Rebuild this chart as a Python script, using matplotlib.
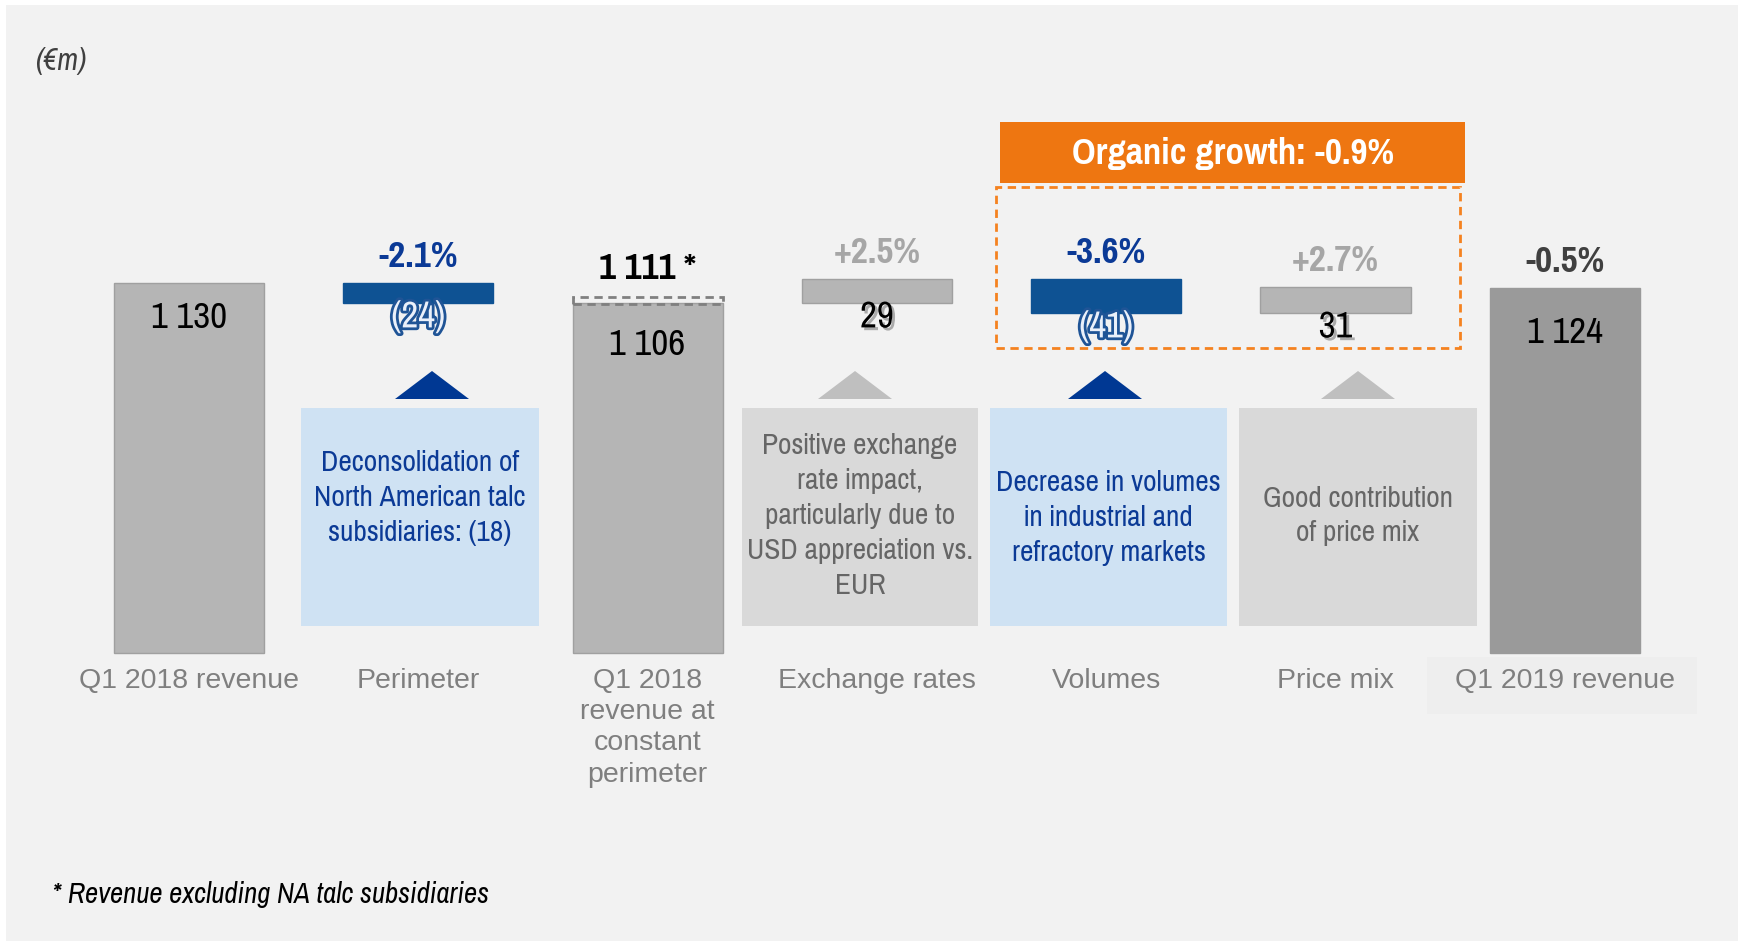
import numpy as np
import matplotlib.pyplot as plt
import matplotlib.patheffects as pe
from matplotlib.patches import Rectangle, Polygon

# data
categories = ["Q1 2018 revenue", "Perimeter", "Q1 2018\nrevenue at\nconstant\nperimeter",
              "Exchange rates", "Volumes", "Price mix", "Q1 2019 revenue"]
values = [1130, -24, 1106, 29, -41, 31, 1124]
is_total = [True, False, True, False, False, False, True]
value_labels = ["1 130", "(24)", "1 106", "29", "(41)", "31", "1 124"]
pct_labels = ["", "-2.1%", "", "+2.5%", "-3.6%", "+2.7%", "-0.5%"]
restated_value = 1111
restated_label = "1 111 *"
organic_label = "Organic growth: -0.9%"
notes = ["Deconsolidation of\nNorth American talc\nsubsidiaries: (18)",
         "Positive exchange\nrate impact,\nparticularly due to\nUSD appreciation vs.\nEUR",
         "Decrease in volumes\nin industrial and\nrefractory markets",
         "Good contribution\nof price mix"]
note_kind = ["neg", "pos", "neg", "pos"]

W, H = 1741, 943
NARROW = ['Pragati Narrow', 'Liberation Sans', 'DejaVu Sans']
NARROW_IT = ['Archivo Narrow', 'Liberation Sans', 'DejaVu Sans']
FONT = ['Liberation Sans', 'DejaVu Sans']

BLUE_BAR = '#0E5293'
BLUE_TXT = '#0B3A96'
GREY_BAR = '#B5B5B5'
DARK_BAR = '#9A9A9A'

def fpx(x, y):
    return (x / W, 1 - y / H)

fig = plt.figure(figsize=(W / 100, H / 100), dpi=100)
fig.patch.set_facecolor('white')
fig.patches.append(Rectangle(fpx(6, 941), 1732 / W, 936 / H, transform=fig.transFigure,
                             facecolor='#F2F2F2', edgecolor='none', zorder=0))

ax = fig.add_axes([0, 0, 1, 1])
ax.set_facecolor('none')
ax.set_zorder(2)
ax.axis('off')

# axis break: bars start at BASE (value), scale 0.8333 px per unit
BASE = 686
PPU = 0.8333
base_px = 653
ax.set_ylim(BASE - (H - base_px) / PPU, BASE + base_px / PPU)
x0_px, step_px = 189.0, 229.3
ax.set_xlim(-x0_px / step_px, (W - x0_px) / step_px)

x = np.arange(len(categories))
bw = 0.655
run = 0
tops, bottoms = [], []
for i, v in enumerate(values):
    if is_total[i]:
        b, h = BASE, v - BASE
        run = v
        col = DARK_BAR if i == len(values) - 1 else GREY_BAR
    else:
        b = min(run, run + v)
        h = abs(v)
        run += v
        col = BLUE_BAR if v < 0 else GREY_BAR
    ax.bar(x[i], h, bottom=b, width=bw, color=col, edgecolor='#A0A0A0' if col == GREY_BAR else col,
           linewidth=1, zorder=2)
    tops.append(b + h)
    bottoms.append(b)

# restated dashed marker on 3rd bar
ax.bar(x[2], restated_value - values[2] + 3, bottom=values[2] - 1, width=bw, fill=False,
       edgecolor='#808080', linestyle=(0, (3, 2)), linewidth=2, zorder=3)
ax.annotate(restated_label, (x[2], restated_value), xytext=(0, 22), textcoords='offset points',
            ha='center', va='center', fontsize=29, fontweight='bold', family=NARROW, color='black')

shadow = [pe.withSimplePatchShadow(offset=(2, -2), shadow_rgbFace='#8C8C8C', alpha=0.7)]
outline = [pe.Stroke(linewidth=4, foreground='#1F5496'), pe.Normal()]

total_off = [-25, None, -30, None, None, None, -32]
for i, v in enumerate(values):
    if is_total[i]:
        ax.annotate(value_labels[i], (x[i], tops[i]), xytext=(0, total_off[i]), textcoords='offset points',
                    ha='center', va='center', fontsize=29, family=NARROW, color='black', zorder=5)
    else:
        t = ax.annotate(value_labels[i], (x[i], bottoms[i]), xytext=(0, -10), textcoords='offset points',
                        ha='center', va='center', fontsize=29, family=NARROW, zorder=5,
                        color='#EAF0FA' if v < 0 else 'black')
        t.set_path_effects(outline if v < 0 else shadow)
    if pct_labels[i]:
        if is_total[i]:
            c = '#404040'
        else:
            c = BLUE_TXT if v < 0 else '#A6A6A6'
        ax.annotate(pct_labels[i], (x[i], tops[i]), xytext=(0, 19), textcoords='offset points',
                    ha='center', va='center', fontsize=29, fontweight='bold', family=NARROW, color=c)

# category labels
for i, c in enumerate(categories):
    ax.text(x[i], BASE - 15 / PPU, c, ha='center', va='top', fontsize=20.5, family=FONT,
            color='#7F7F7F', linespacing=1.26)
fig.patches.append(Rectangle(fpx(1427, 714), 270 / W, 57 / H, transform=fig.transFigure,
                             facecolor='#EEEEEE', edgecolor='none', zorder=0.5))

# note boxes with triangles
box_x = [(301, 539), (742, 978), (990, 1227), (1239, 1477)]
tri_cx = [432, 855, 1105, 1358]
text_cy = [498, 516, 518, 516]
for (l, r), cx, cy, txt, k in zip(box_x, tri_cx, text_cy, notes, note_kind):
    fc = '#CFE2F3' if k == 'neg' else '#D9D9D9'
    tc = BLUE_TXT if k == 'neg' else '#666666'
    trc = '#003893' if k == 'neg' else '#BFBFBF'
    fig.patches.append(Rectangle(fpx(l, 626), (r - l) / W, 218 / H, transform=fig.transFigure,
                                 facecolor=fc, edgecolor='none', zorder=1))
    fig.patches.append(Polygon([fpx(cx - 37, 399), fpx(cx + 37, 399), fpx(cx, 371)],
                               closed=True, transform=fig.transFigure, facecolor=trc,
                               edgecolor='none', zorder=1))
    fig.text((l + r) / 2 / W, 1 - cy / H, txt, ha='center', va='center', fontsize=23,
             family=NARROW, color=tc, linespacing=1.42)

# organic growth header and dashed frame
fig.patches.append(Rectangle(fpx(1000, 183), 465 / W, 61 / H, transform=fig.transFigure,
                             facecolor='#EE7611', edgecolor='none', zorder=1))
fig.text(1233 / W, 1 - 153 / H, organic_label, ha='center', va='center', fontsize=29,
         fontweight='bold', family=NARROW, color='white')
fig.patches.append(Rectangle(fpx(996, 348), 464 / W, 161 / H, transform=fig.transFigure,
                             facecolor='none', edgecolor='#F58220', linestyle=(0, (3, 2)),
                             linewidth=2, zorder=4))

# unit and footnote
fig.text(35 / W, 1 - 61 / H, "(€m)", ha='left', va='center', fontsize=22, style='italic',
         family=NARROW_IT, color='#404040')
fig.text(52 / W, 1 - 895 / H, "* Revenue excluding NA talc subsidiaries", ha='left', va='center',
         fontsize=20.8, style='italic', family=NARROW_IT, color='black')

fig.savefig("out.png", dpi=100, facecolor=fig.get_facecolor())
